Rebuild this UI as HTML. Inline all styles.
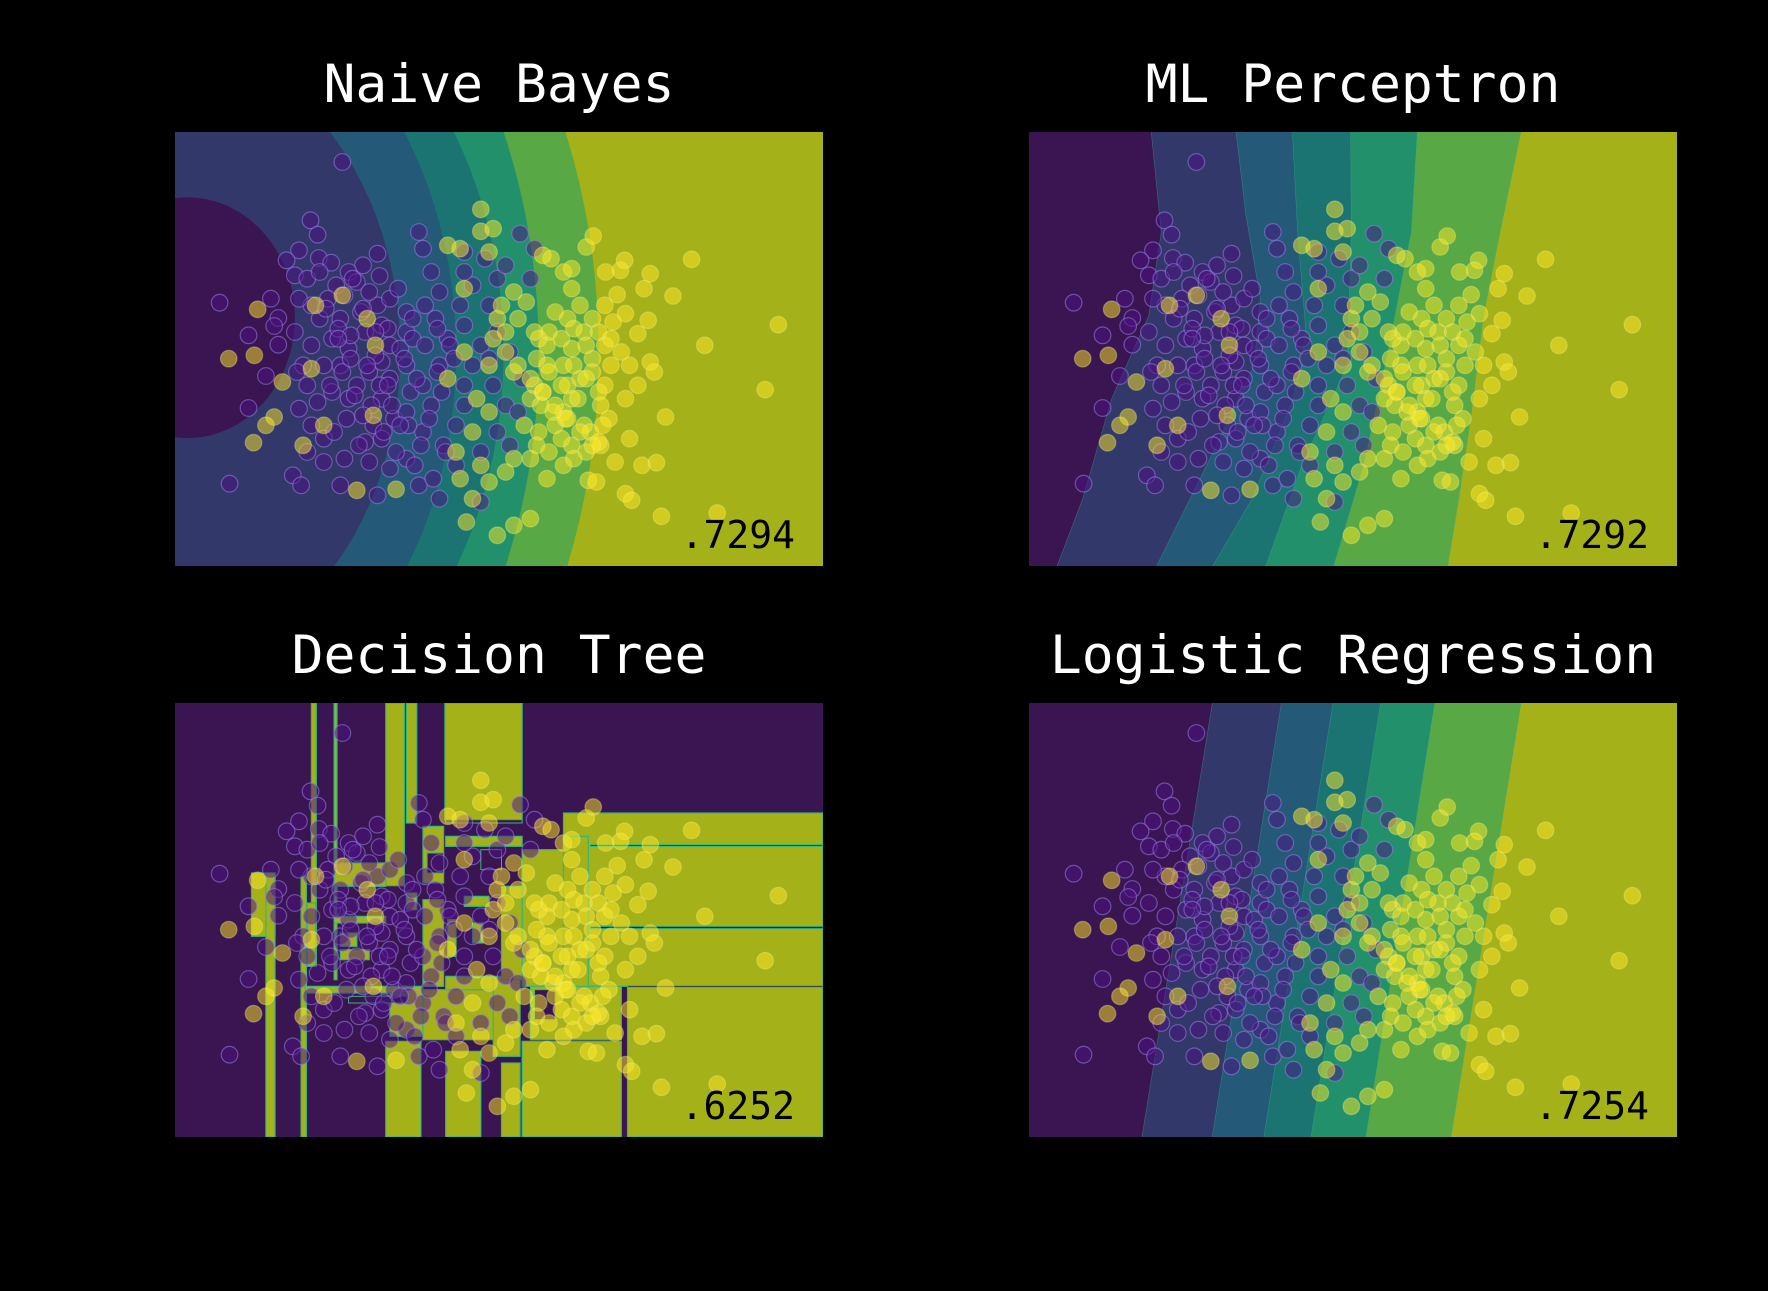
<!DOCTYPE html>
<html><head><meta charset="utf-8">
<style>
html,body{margin:0;padding:0;background:#000;}
svg{display:block;}
text{font-family:"DejaVu Sans Mono","Liberation Mono",monospace;}
</style></head>
<body>
<svg id="fig" width="1768" height="1291" viewBox="0 0 1768 1291" xmlns="http://www.w3.org/2000/svg">
<rect x="0" y="0" width="1768" height="1291" fill="#000"/>
</svg>
<script>
// ---- data (feature space units: x 0..1568, y 0..1302, y downward) ----
const purpleX = [405,328,345,300,270,348,378,490,455,495,290,320,350,420,440,390,410,430,108,232,250,240,178,250,220,178,132,285,305,290,310,330,295,320,345,300,330,360,320,360,410,400,490,460,480,420,380,440,470,500,520,400,360,420,380,460,500,520,350,400,450,490,520,540,470,330,300,370,500,530,500,470,520,560,560,560,570,560,560,590,600,620,640,630,660,640,600,620,600,580,590,640,680,650,680,700,700,720,740,700,690,720,700,700,750,780,760,780,760,770,800,780,740,740,810,830,840,810,835,870,800,860,
  365,395,425,455,485,515,545,575,605,635,665,375,405,435,465,495,525,555,585,615,645,675,385,415,445,475,505,535,565,595,625,655,395,425,455,485,515,545,575,605,635];
const purpleY = [90,265,308,355,385,378,392,365,400,432,430,440,420,420,450,460,490,440,512,500,558,582,610,638,732,828,1055,1030,1060,600,700,640,720,760,810,830,880,920,960,990,980,1060,1090,930,880,800,780,760,720,690,740,700,700,650,620,600,580,640,560,560,540,520,500,470,480,520,500,500,800,860,920,990,1010,540,600,700,780,840,980,300,350,420,480,560,620,700,760,820,900,1000,1060,1100,1000,940,880,820,760,700,640,580,520,460,420,360,380,440,520,600,680,760,820,900,960,1110,940,840,740,660,305,350,400,440,
  530,590,610,530,670,590,650,620,520,590,640,760,720,790,700,760,820,680,740,860,780,680,900,860,940,820,900,960,880,940,1040,960,620,680,850,600,760,880,560,640,720];
const yellowX = [740,740,770,995,1012,1088,1078,1042,1150,1135,1070,1205,1250,1460,1282,1428,1187,1040,1090,1145,1120,1060,1040,1080,1100,1150,1160,1120,1090,1040,1030,1050,1100,1030,1065,1130,1165,1000,1020,1090,1105,1177,1312,940,960,980,950,990,960,940,980,960,990,960,940,900,860,820,780,705,860,880,920,940,900,920,960,910,890,1010,1010,1010,950,870,860,820,800,760,720,740,690,780,820,820,800,760,720,680,700,660,730,760,660,690,700,760,200,130,192,260,240,220,190,340,405,465,485,330,310,360,480,440,535,850,900,880,890,
  905,935,965,995,1025,1055,875,905,935,965,995,1025,1055,885,915,945,975,1005,1035,845,875,905,935,965,995,1025,770,800,830,860,890,920,950,980,1010,790,830,870];
const yellowY = [232,298,290,345,312,385,415,420,425,470,488,492,382,578,640,773,855,520,545,565,605,570,640,660,700,690,720,760,800,760,820,860,920,940,990,1000,992,1045,1050,1085,1105,1153,1143,420,470,520,560,600,650,700,740,800,880,940,1000,1040,1160,1180,1210,1170,980,900,880,840,640,540,410,380,370,680,720,560,760,760,800,980,1020,1050,1100,1000,1040,560,480,720,600,840,900,960,660,740,800,700,340,350,470,360,532,680,670,750,855,880,932,520,490,560,640,710,940,880,850,1075,1072,510,700,620,780,
  600,620,590,640,600,620,680,720,760,700,740,780,700,820,840,860,800,900,880,880,940,960,920,980,960,930,620,660,700,740,780,820,860,900,940,520,560,600];
const scores = [".7294", ".7292", ".6252", ".7254"];
const titles = ["Naive Bayes", "ML Perceptron", "Decision Tree", "Logistic Regression"];

const NS = "http://www.w3.org/2000/svg";
const svg = document.getElementById("fig");
const W = 648, H = 434, DW = 1568, DH = 1302;
const panels = [{x:175,y:132},{x:1029,y:132},{x:175,y:703},{x:1029,y:703}];
const levels = ["#3a1551","#33386a","#245a78","#1b7472","#21906b","#58a845","#a5b118"];

function mk(tag, attrs, parent){
  const e = document.createElementNS(NS, tag);
  for (const k in attrs) e.setAttribute(k, attrs[k]);
  parent.appendChild(e);
  return e;
}

panels.forEach((p, i) => {
  const sx = v => p.x + v * W / DW;
  const sy = v => p.y + v * H / DH;
  const clip = mk("clipPath", {id: "clip" + i}, svg);
  mk("rect", {x:p.x, y:p.y, width:W, height:H}, clip);
  const g = mk("g", {"clip-path": "url(#clip" + i + ")"}, svg);
  
  
  const bg = mk("rect", {x:p.x, y:p.y, width:W, height:H, fill: i===2 ? levels[0] : levels[6]}, g);
  
  

  if (i === 0) {
    const ells = [[1065,1732,5],[920,1572,4],[835,1277,3],[720,1172,2],[585,936,1]];
    ells.forEach(e => {
      const el = mk("ellipse", {cx:sx(-40), cy:sy(660), rx:e[0]*W/DW, ry:e[1]*H/DH, fill:levels[e[2]]}, g);
      
      
    });
    const c = mk("ellipse", {cx:sx(30), cy:sy(557), rx:260*W/DW, ry:361*H/DH, fill:levels[0]}, g);
    
    
  } else if (i === 1 || i === 3) {
    const bounds = i === 1 ? [
      [[295,0],[320,300],[290,550],[200,800],[130,1100],[65,1302]],
      [[500,0],[525,250],[560,500],[545,700],[450,950],[305,1302]],
      [[637,0],[650,300],[670,600],[640,800],[540,1100],[440,1302]],
      [[778,0],[780,300],[770,700],[660,1000],[570,1302]],
      [[940,0],[925,300],[870,650],[810,1000],[735,1302]],
      [[1192,0],[1140,300],[1100,550],[1070,850],[1040,1100],[1012,1302]]
    ] : [
      [[445,0],[272,1302]],[[612,0],[442,1302]],[[737,0],[567,1302]],
      [[852,0],[681,1302]],[[983,0],[814,1302]],[[1192,0],[1020,1302]]
    ];
    for (let b = 5; b >= 0; b--) {
      let d = "M" + sx(-10) + "," + sy(-10);
      bounds[b].forEach((pt, k) => { d += " L" + sx(pt[0]) + "," + sy(k===0?-10:(k===bounds[b].length-1?1312:pt[1])); });
      d += " L" + sx(-10) + "," + sy(1312) + " Z";
      const pa = mk("path", {d:d, fill:levels[b], stroke:"#3fae8a", "stroke-width":0.6, "stroke-opacity":0.5}, g);
      
      
    }
  } else {
    const yr = [[330,0,342,790],[385,0,392,830],[510,0,555,548],[560,0,585,360],[653,0,840,350],
      [940,330,1568,850],[1095,850,1568,1302],[185,510,242,700],[220,510,242,1302],[305,520,318,1302],
      [510,1015,595,1302],[655,1045,740,1302],[840,1015,1080,1302],[770,820,835,1060],[840,440,940,850],
      [600,370,650,540],[655,400,840,430],[790,550,840,830],[700,580,760,610],[560,570,585,620],
      [385,480,510,550],[400,740,470,770],[520,850,600,1000],[600,860,770,1010],[320,600,340,790],
      [860,850,1080,1010],[655,820,770,860],[720,660,745,720],[660,650,680,760],[600,590,650,850],
      [790,1080,835,1302],[940,400,1000,850],[385,640,510,660],[400,690,440,730],[315,850,560,870]];
    yr.forEach(r => {
      const re = mk("rect", {x:sx(r[0]), y:sy(r[1]), width:(r[2]-r[0])*W/DW, height:(r[3]-r[1])*H/DH,
        fill:levels[6], stroke:"#35b779", "stroke-width":1.2}, g);
      
      
    });
    const pr = [[870,860,920,950],[1005,425,1568,430],[1005,670,1568,677],[1095,848,1568,853],[655,350,840,360],[610,450,650,510],[740,440,790,500],[420,880,560,900]];
    pr.forEach(r => {
      const re = mk("rect", {x:sx(r[0]), y:sy(r[1]), width:(r[2]-r[0])*W/DW, height:(r[3]-r[1])*H/DH,
        fill:levels[0], stroke:"#35b779", "stroke-width":1}, g);
      
      
    });
  }

  purpleX.forEach((v, k) => {
    const c = mk("circle", {cx:sx(v), cy:sy(purpleY[k]), r:8.3, fill:"rgba(75,15,130,0.5)", stroke:"rgba(150,130,225,0.55)", "stroke-width":1.2}, g);
    
    
  });
  yellowX.forEach((v, k) => {
    const c = mk("circle", {cx:sx(v), cy:sy(yellowY[k]), r:8.3, fill:"rgba(253,231,37,0.5)", stroke:"rgba(240,240,140,0.35)", "stroke-width":1.2}, g);
    
    
  });

  const s = mk("text", {x:p.x + 620, y:p.y + 416, "text-anchor":"end", "font-size":38, fill:"#000"}, svg);
  s.textContent = scores[i];
  
  
  const t = mk("text", {x:p.x + W/2, y:p.y - 30, "text-anchor":"middle", "font-size":53, fill:"#fff"}, svg);
  t.textContent = titles[i];
  
  
});
</script>
</body></html>
